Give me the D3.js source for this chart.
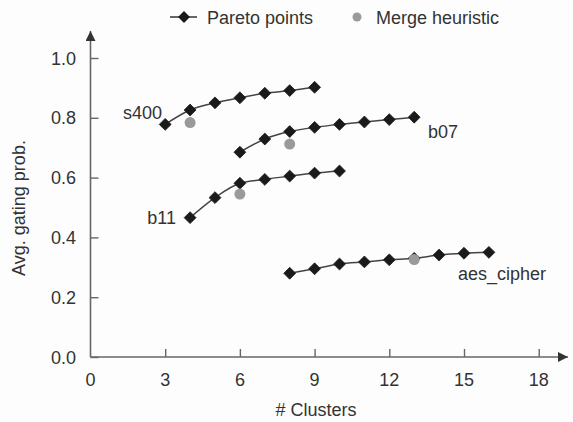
<!DOCTYPE html>
<html>
<head>
<meta charset="utf-8">
<script src="https://cdn.jsdelivr.net/npm/d3@7"></script>
<style>
  html, body { margin: 0; padding: 0; background: #fdfdfd; }
  svg { display: block; font-family: "Liberation Sans", Arial, Helvetica, sans-serif; }
</style>
</head>
<body>
<svg id="chart" width="573" height="422"></svg>
<script>
// ---- data ----
const s400X = [3, 4, 5, 6, 7, 8, 9];
const s400Y = [0.778, 0.826, 0.850, 0.867, 0.882, 0.891, 0.902];
const b07X = [6, 7, 8, 9, 10, 11, 12, 13];
const b07Y = [0.685, 0.729, 0.754, 0.768, 0.778, 0.786, 0.794, 0.802];
const b11X = [4, 5, 6, 7, 8, 9, 10];
const b11Y = [0.466, 0.533, 0.581, 0.594, 0.605, 0.615, 0.622];
const aesX = [8, 9, 10, 11, 12, 13, 14, 15, 16];
const aesY = [0.280, 0.295, 0.311, 0.318, 0.325, 0.330, 0.341, 0.347, 0.350];
const seriesNames = ["s400", "b07", "b11", "aes_cipher"];
const mergeX = [4, 8, 6, 13];
const mergeY = [0.784, 0.712, 0.545, 0.326];
const xTicks = [0, 3, 6, 9, 12, 15, 18];
const yTicks = [0.0, 0.2, 0.4, 0.6, 0.8, 1.0];
const legendLabels = ["Pareto points", "Merge heuristic"];

const series = [
  { name: seriesNames[0], xs: s400X, ys: s400Y },
  { name: seriesNames[1], xs: b07X, ys: b07Y },
  { name: seriesNames[2], xs: b11X, ys: b11Y },
  { name: seriesNames[3], xs: aesX, ys: aesY }
];

const svg = d3.select("#chart");
const x = d3.scaleLinear().domain([0, 18]).range([90.5, 538.7]);
const y = d3.scaleLinear().domain([0, 1]).range([357, 58]);
const axisColor = "#666";
const textColor = "#333";
const fontSize = 18;

// axes lines with arrows
svg.append("defs").append("marker")
  .attr("id", "arrow").attr("viewBox", "0 0 10 10")
  .attr("refX", 10).attr("refY", 5)
  .attr("markerWidth", 10).attr("markerHeight", 10)
  .attr("markerUnits", "userSpaceOnUse")
  .attr("orient", "auto")
  .append("path").attr("d", "M0,0 L10,5 L0,10 Z").attr("fill", "#333");

svg.append("line")
  .attr("x1", x(0)).attr("y1", y(0)).attr("x2", x(0)).attr("y2", 31)
  .attr("stroke", axisColor).attr("stroke-width", 1.6)
  .attr("marker-end", "url(#arrow)");
svg.append("line")
  .attr("x1", x(0)).attr("y1", y(0)).attr("x2", 568).attr("y2", y(0))
  .attr("stroke", axisColor).attr("stroke-width", 1.6)
  .attr("marker-end", "url(#arrow)");

// y axis ticks (inward)
const yAxis = d3.axisRight(y).tickValues(yTicks).tickSize(8).tickFormat("");
const gy = svg.append("g").attr("transform", `translate(${x(0)},0)`).call(yAxis);
gy.select(".domain").remove();
gy.selectAll(".tick line").attr("stroke", axisColor).attr("stroke-width", 1.4);
svg.selectAll(".ytl").data(yTicks).enter().append("text")
  .attr("class", "ytl")
  .attr("x", 76).attr("y", d => y(d) + 6.5)
  .attr("text-anchor", "end")
  .attr("font-size", fontSize).attr("fill", textColor)
  .text(d => d3.format(".1f")(d));

// x axis ticks (inward)
const xAxis = d3.axisTop(x).tickValues(xTicks.filter(d => d > 0)).tickSize(8).tickFormat("");
const gx = svg.append("g").attr("transform", `translate(0,${y(0)})`).call(xAxis);
gx.select(".domain").remove();
gx.selectAll(".tick line").attr("stroke", axisColor).attr("stroke-width", 1.4);
svg.selectAll(".xtl").data(xTicks).enter().append("text")
  .attr("class", "xtl")
  .attr("x", d => x(d)).attr("y", 386)
  .attr("text-anchor", "middle")
  .attr("font-size", fontSize).attr("fill", textColor)
  .text(d => d);

// axis titles
svg.append("text")
  .attr("x", 316).attr("y", 416)
  .attr("text-anchor", "middle")
  .attr("font-size", fontSize).attr("fill", textColor)
  .text("# Clusters");
svg.append("text")
  .attr("transform", "translate(25,208) rotate(-90)")
  .attr("text-anchor", "middle")
  .attr("font-size", fontSize).attr("fill", textColor)
  .text("Avg. gating prob.");

// lines
const line = d3.line().x(d => x(d[0])).y(d => y(d[1])).curve(d3.curveMonotoneX);
const diamond = d3.symbol().type(d3.symbolDiamond2).size(90);
series.forEach(s => {
  const pts = s.xs.map((v, i) => [v, s.ys[i]]);
  svg.append("path").datum(pts)
    .attr("d", line)
    .attr("fill", "none").attr("stroke", "#444").attr("stroke-width", 1.5);
});

series.forEach(s => {
  const pts = s.xs.map((v, i) => [v, s.ys[i]]);
  svg.append("g").selectAll("path").data(pts).enter().append("path")
    .attr("transform", d => `translate(${x(d[0])},${y(d[1])})`)
    .attr("d", diamond)
    .attr("fill", "#1a1a1a").attr("stroke", "#1a1a1a").attr("stroke-width", 0.8);
});

// merge heuristic points (drawn on top)
svg.selectAll(".merge").data(mergeX.map((v, i) => [v, mergeY[i]])).enter()
  .append("circle").attr("class", "merge")
  .attr("cx", d => x(d[0])).attr("cy", d => y(d[1])).attr("r", 5.5)
  .attr("fill", "#9a9a9a");

// series labels
const labelPos = [
  { anchor: "end", x: 162, y: 119 },
  { anchor: "start", x: 428, y: 138 },
  { anchor: "end", x: 176, y: 224 },
  { anchor: "start", x: 458, y: 280 }
];
seriesNames.forEach((n, i) => {
  svg.append("text")
    .attr("x", labelPos[i].x).attr("y", labelPos[i].y)
    .attr("text-anchor", labelPos[i].anchor)
    .attr("font-size", fontSize).attr("fill", textColor)
    .text(n);
});

// legend
const lg = svg.append("g");
lg.append("line").attr("x1", 170).attr("x2", 197).attr("y1", 17).attr("y2", 17)
  .attr("stroke", "#333").attr("stroke-width", 1.5);
lg.append("path").attr("transform", "translate(184,17)").attr("d", diamond)
  .attr("fill", "#1a1a1a");
lg.append("text").attr("x", 207).attr("y", 23.5)
  .attr("font-size", fontSize).attr("fill", textColor).text(legendLabels[0]);
lg.append("circle").attr("cx", 357).attr("cy", 17).attr("r", 4.5).attr("fill", "#9a9a9a");
lg.append("text").attr("x", 376).attr("y", 23.5)
  .attr("font-size", fontSize).attr("fill", textColor).text(legendLabels[1]);
</script>
</body>
</html>
